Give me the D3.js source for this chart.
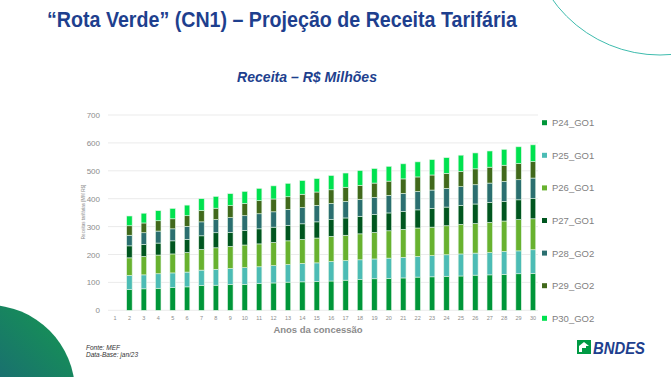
<!DOCTYPE html>
<html>
<head>
<meta charset="utf-8">
<script src="https://cdn.jsdelivr.net/npm/d3@7"></script>
<style>
  body { margin: 0; background: #fff; }
  svg { display: block; font-family: "Liberation Sans", Arial, sans-serif; }
</style>
</head>
<body>
<div id="chart"></div>
<script>
// years of the concession (x categories)
const years = d3.range(1, 31);

// revenue per year, R$ millions
const P24_GO1 = [0,74,77,79,81,84,89,90,92,93,96,98,101,102,103,105,108,110,113,114,116,119,120,122,123,126,127,129,131,132];
const P25_GO1 = [0,51,50,52,53,53,55,57,58,60,60,62,63,66,67,70,70,71,71,73,74,74,76,77,79,79,80,82,82,85];
const P26_GO1 = [0,63,66,67,68,70,74,77,79,81,82,83,85,86,89,90,91,93,95,98,100,102,102,104,106,106,108,109,112,111];
const P27_GO1 = [0,43,43,43,47,47,49,54,50,52,54,55,55,56,58,60,62,63,64,64,64,65,67,67,68,70,72,70,71,72];
const P28_GO2 = [0,38,42,43,43,47,50,47,53,53,54,55,58,58,59,58,59,61,62,63,65,66,66,67,67,69,69,72,72,74];
const P29_GO2 = [0,34,35,37,36,38,41,41,43,44,47,46,45,48,48,49,51,50,51,51,52,52,54,54,55,57,57,58,58,59];
const P30_GO2 = [0,35,35,36,37,38,42,42,43,43,44,47,48,49,48,51,51,53,52,53,54,54,55,56,58,57,58,57,60,60];

const seriesNames = ['P24_GO1', 'P25_GO1', 'P26_GO1', 'P27_GO1', 'P28_GO2', 'P29_GO2', 'P30_GO2'];
const seriesValues = [P24_GO1, P25_GO1, P26_GO1, P27_GO1, P28_GO2, P29_GO2, P30_GO2];
const yTicks = [0, 100, 200, 300, 400, 500, 600, 700];

const colors = {
    P24_GO1: '#009639',
    P25_GO1: '#4cbcb5',
    P26_GO1: '#68b22f',
    P27_GO1: '#00561f',
    P28_GO2: '#2b6f70',
    P29_GO2: '#41691c',
    P30_GO2: '#00e24f',
};

const width = 671, height = 377;
const blue = '#1e3f8e';

const svg = d3.select('#chart')
    .append('svg')
    .attr('width', width)
    .attr('height', height)
;

// decorations: gradient quarter circle bottom-left, thin arc top-right
const defs = svg.append('defs');
const grad = defs.append('linearGradient')
    .attr('id', 'corner-grad')
    .attr('x1', '0%').attr('y1', '100%')
    .attr('x2', '100%').attr('y2', '0%')
;
grad.append('stop').attr('offset', '0%').attr('stop-color', '#1f3a8c');
grad.append('stop').attr('offset', '40%').attr('stop-color', '#1b5f7c');
grad.append('stop').attr('offset', '100%').attr('stop-color', '#159a4f');

svg.append('circle')
    .attr('cx', -12).attr('cy', 392).attr('r', 87)
    .attr('fill', 'url(#corner-grad)')
;

svg.append('circle')
    .attr('cx', 660).attr('cy', -77).attr('r', 132)
    .attr('fill', 'none')
    .attr('stroke', '#3fbcae')
    .attr('stroke-width', 1)
;

// titles
svg.append('text')
    .attr('x', 47).attr('y', 27)
    .attr('font-size', 21.5)
    .attr('font-weight', 'bold')
    .attr('fill', blue)
    .attr('textLength', 470)
    .attr('lengthAdjust', 'spacingAndGlyphs')
    .text('\u201cRota Verde\u201d (CN1) \u2013 Proje\u00e7\u00e3o de Receita Tarif\u00e1ria')
;

svg.append('text')
    .attr('x', 307).attr('y', 82)
    .attr('text-anchor', 'middle')
    .attr('font-size', 14.5)
    .attr('font-weight', 'bold')
    .attr('font-style', 'italic')
    .attr('fill', blue)
    .attr('textLength', 140)
    .attr('lengthAdjust', 'spacingAndGlyphs')
    .text('Receita \u2013 R$ Milh\u00f5es')
;

// scales
const x = d3.scaleBand()
    .domain(years)
    .range([107.8, 540.2])
    .paddingInner(0.62)
    .paddingOuter(0.31)
;

const y = d3.scaleLinear()
    .domain([0, 700])
    .range([310.3, 115])
;

// gridlines
svg.append('g')
    .selectAll('line')
    .data(yTicks)
    .enter()
    .append('line')
    .attr('x1', 108).attr('x2', 538)
    .attr('y1', d => y(d)).attr('y2', d => y(d))
    .attr('stroke', '#ebebeb')
    .attr('stroke-width', 1)
;

// y axis labels
const yAxis = d3.axisLeft(y).tickValues(yTicks).tickSize(0).tickPadding(0);
svg.append('g')
    .attr('transform', 'translate(100,0)')
    .call(yAxis)
    .call(g => g.select('.domain').remove())
    .call(g => g.selectAll('text')
        .attr('font-size', 8)
        .attr('fill', '#8c8c8c')
        .attr('font-family', '"Liberation Sans", Arial, sans-serif'))
;

// x axis labels
const xAxis = d3.axisBottom(x).tickSize(0).tickPadding(0);
svg.append('g')
    .attr('transform', 'translate(0,316)')
    .call(xAxis)
    .call(g => g.select('.domain').remove())
    .call(g => g.selectAll('text')
        .attr('font-size', 5.5)
        .attr('fill', '#8c8c8c')
        .attr('font-family', '"Liberation Sans", Arial, sans-serif'))
;

// axis titles
svg.append('text')
    .attr('transform', 'translate(84.5,212) rotate(-90)')
    .attr('text-anchor', 'middle')
    .attr('font-size', 4.5)
    .attr('fill', '#8c8c8c')
    .text('Receitas tarif\u00e1rias [MM R$]')
;

svg.append('text')
    .attr('x', 318).attr('y', 333)
    .attr('text-anchor', 'middle')
    .attr('font-size', 9.5)
    .attr('font-weight', 'bold')
    .attr('fill', '#8c8c8c')
    .text('Anos da concess\u00e3o')
;

// stacked bars
const table = years.map((yr, i) => {
    const row = { year: yr };
    seriesNames.forEach((name, k) => { row[name] = seriesValues[k][i]; });
    return row;
});

const stacked = d3.stack().keys(seriesNames)(table);

svg.append('g')
    .selectAll('g')
    .data(stacked)
    .enter()
    .append('g')
    .attr('fill', d => colors[d.key])
    .selectAll('rect')
    .data(d => d.filter(p => p[1] > p[0]))
    .enter()
    .append('rect')
    .attr('x', d => x(d.data.year))
    .attr('y', d => y(d[1]))
    .attr('width', x.bandwidth())
    .attr('height', d => y(d[0]) - y(d[1]))
    .attr('stroke', '#dff3e3')
    .attr('stroke-width', 0.6)
;

// legend
const legend = svg.append('g')
    .selectAll('g')
    .data(seriesNames)
    .enter()
    .append('g')
    .attr('transform', (d, i) => `translate(542,${122.7 + i * 32.6})`)
;
legend.append('rect')
    .attr('x', 0).attr('y', -2.5)
    .attr('width', 5).attr('height', 5)
    .attr('fill', d => colors[d])
;
legend.append('text')
    .attr('x', 10).attr('y', 3.4)
    .attr('font-size', 9.5)
    .attr('fill', '#7f7f7f')
    .text(d => d)
;

// footnote
svg.append('text')
    .attr('x', 86).attr('y', 350)
    .attr('font-size', 6.5)
    .attr('font-style', 'italic')
    .attr('fill', '#333')
    .text('Fonte: MEF')
;
svg.append('text')
    .attr('x', 86).attr('y', 356.5)
    .attr('font-size', 6.5)
    .attr('font-style', 'italic')
    .attr('fill', '#333')
    .text('Data-Base: jan/23')
;

// BNDES logo
const logo = svg.append('g').attr('transform', 'translate(577,340)');
logo.append('rect')
    .attr('width', 14).attr('height', 14)
    .attr('fill', '#009a44')
;
logo.append('path')
    .attr('d', 'M2,12 L2,6 L7,2 L12,6 L9,6 L9,12 Z')
    .attr('fill', '#fff')
;
logo.append('path')
    .attr('d', 'M5,12 L5,8 L9,8 L9,12 Z')
    .attr('fill', '#009a44')
;
svg.append('text')
    .attr('x', 593).attr('y', 353.5)
    .attr('font-size', 17)
    .attr('font-weight', 'bold')
    .attr('font-style', 'italic')
    .attr('fill', blue)
    .attr('textLength', 52)
    .attr('lengthAdjust', 'spacingAndGlyphs')
    .text('BNDES')
;
</script>
</body>
</html>
